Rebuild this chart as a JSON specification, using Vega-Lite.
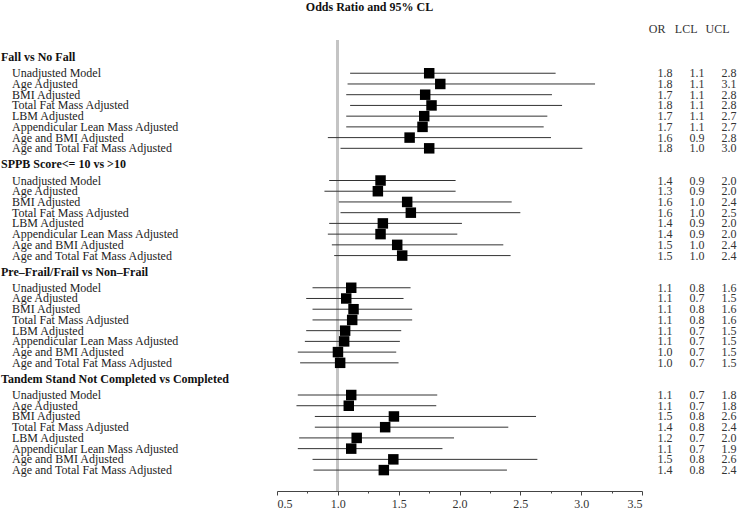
{
  "$schema": "https://vega.github.io/schema/vega-lite/v6.json",
  "background": "white",
  "padding": {"left": 0, "right": 0, "top": 1, "bottom": 0},
  "bounds": "flush",
  "spacing": 13,
  "title": {"text": "Odds Ratio and 95% CL", "font": "Liberation Serif", "fontSize": 12, "fontWeight": "bold", "anchor": "middle", "offset": 8, "color": "#111"},
  "config": {
    "view": {"stroke": null},
    "font": "Liberation Serif",
    "axis": {"labelFont": "Liberation Serif", "labelFontSize": 12, "labelColor": "#333", "domainColor": "#444", "tickColor": "#444", "grid": false, "title": null}
  },
  "datasets": {
    "rows": [
      {"group": "Fall vs No Fall", "label": "Fall vs No Fall", "type": "group", "level": 0, "pos": 0},
      {"group": "Fall vs No Fall", "label": "Unadjusted Model", "type": "item", "level": 1, "pos": 1.5, "OR": 1.751, "LCL": 1.101, "UCL": 2.790},
      {"group": "Fall vs No Fall", "label": "Age Adjusted", "type": "item", "level": 1, "pos": 2.5, "OR": 1.842, "LCL": 1.080, "UCL": 3.114},
      {"group": "Fall vs No Fall", "label": "BMI Adjusted", "type": "item", "level": 1, "pos": 3.5, "OR": 1.718, "LCL": 1.069, "UCL": 2.760},
      {"group": "Fall vs No Fall", "label": "Total Fat Mass Adjusted", "type": "item", "level": 1, "pos": 4.5, "OR": 1.770, "LCL": 1.101, "UCL": 2.843},
      {"group": "Fall vs No Fall", "label": "LBM Adjusted", "type": "item", "level": 1, "pos": 5.5, "OR": 1.710, "LCL": 1.069, "UCL": 2.722},
      {"group": "Fall vs No Fall", "label": "Appendicular Lean Mass Adjusted", "type": "item", "level": 1, "pos": 6.5, "OR": 1.696, "LCL": 1.069, "UCL": 2.692},
      {"group": "Fall vs No Fall", "label": "Age and BMI Adjusted", "type": "item", "level": 1, "pos": 7.5, "OR": 1.590, "LCL": 0.918, "UCL": 2.752},
      {"group": "Fall vs No Fall", "label": "Age and Total Fat Mass Adjusted", "type": "item", "level": 1, "pos": 8.5, "OR": 1.751, "LCL": 1.022, "UCL": 3.010},
      {"group": "SPPB", "label": "SPPB Score<= 10 vs >10", "type": "group", "level": 0, "pos": 10},
      {"group": "SPPB", "label": "Unadjusted Model", "type": "item", "level": 1, "pos": 11.5, "OR": 1.351, "LCL": 0.929, "UCL": 1.968},
      {"group": "SPPB", "label": "Age Adjusted", "type": "item", "level": 1, "pos": 12.5, "OR": 1.329, "LCL": 0.890, "UCL": 1.968},
      {"group": "SPPB", "label": "BMI Adjusted", "type": "item", "level": 1, "pos": 13.5, "OR": 1.570, "LCL": 1.008, "UCL": 2.429},
      {"group": "SPPB", "label": "Total Fat Mass Adjusted", "type": "item", "level": 1, "pos": 14.5, "OR": 1.600, "LCL": 1.022, "UCL": 2.500},
      {"group": "SPPB", "label": "LBM Adjusted", "type": "item", "level": 1, "pos": 15.5, "OR": 1.370, "LCL": 0.929, "UCL": 2.020},
      {"group": "SPPB", "label": "Appendicular Lean Mass Adjusted", "type": "item", "level": 1, "pos": 16.5, "OR": 1.351, "LCL": 0.918, "UCL": 1.982},
      {"group": "SPPB", "label": "Age and BMI Adjusted", "type": "item", "level": 1, "pos": 17.5, "OR": 1.488, "LCL": 0.951, "UCL": 2.360},
      {"group": "SPPB", "label": "Age and Total Fat Mass Adjusted", "type": "item", "level": 1, "pos": 18.5, "OR": 1.529, "LCL": 0.970, "UCL": 2.420},
      {"group": "Frail", "label": "Pre–Frail/Frail vs Non–Frail", "type": "group", "level": 0, "pos": 20},
      {"group": "Frail", "label": "Unadjusted Model", "type": "item", "level": 1, "pos": 21.5, "OR": 1.110, "LCL": 0.792, "UCL": 1.598},
      {"group": "Frail", "label": "Age Adjusted", "type": "item", "level": 1, "pos": 22.5, "OR": 1.069, "LCL": 0.740, "UCL": 1.540},
      {"group": "Frail", "label": "BMI Adjusted", "type": "item", "level": 1, "pos": 23.5, "OR": 1.129, "LCL": 0.792, "UCL": 1.611},
      {"group": "Frail", "label": "Total Fat Mass Adjusted", "type": "item", "level": 1, "pos": 24.5, "OR": 1.118, "LCL": 0.792, "UCL": 1.611},
      {"group": "Frail", "label": "LBM Adjusted", "type": "item", "level": 1, "pos": 25.5, "OR": 1.060, "LCL": 0.740, "UCL": 1.521},
      {"group": "Frail", "label": "Appendicular Lean Mass Adjusted", "type": "item", "level": 1, "pos": 26.5, "OR": 1.052, "LCL": 0.729, "UCL": 1.510},
      {"group": "Frail", "label": "Age and BMI Adjusted", "type": "item", "level": 1, "pos": 27.5, "OR": 1.001, "LCL": 0.671, "UCL": 1.480},
      {"group": "Frail", "label": "Age and Total Fat Mass Adjusted", "type": "item", "level": 1, "pos": 28.5, "OR": 1.019, "LCL": 0.690, "UCL": 1.499},
      {"group": "Tandem", "label": "Tandem Stand Not Completed vs Completed", "type": "group", "level": 0, "pos": 30},
      {"group": "Tandem", "label": "Unadjusted Model", "type": "item", "level": 1, "pos": 31.5, "OR": 1.110, "LCL": 0.671, "UCL": 1.817},
      {"group": "Tandem", "label": "Age Adjusted", "type": "item", "level": 1, "pos": 32.5, "OR": 1.090, "LCL": 0.660, "UCL": 1.809},
      {"group": "Tandem", "label": "BMI Adjusted", "type": "item", "level": 1, "pos": 33.5, "OR": 1.461, "LCL": 0.811, "UCL": 2.629},
      {"group": "Tandem", "label": "Total Fat Mass Adjusted", "type": "item", "level": 1, "pos": 34.5, "OR": 1.389, "LCL": 0.811, "UCL": 2.401},
      {"group": "Tandem", "label": "LBM Adjusted", "type": "item", "level": 1, "pos": 35.5, "OR": 1.155, "LCL": 0.682, "UCL": 1.955},
      {"group": "Tandem", "label": "Appendicular Lean Mass Adjusted", "type": "item", "level": 1, "pos": 36.5, "OR": 1.110, "LCL": 0.671, "UCL": 1.860},
      {"group": "Tandem", "label": "Age and BMI Adjusted", "type": "item", "level": 1, "pos": 37.5, "OR": 1.456, "LCL": 0.792, "UCL": 2.640},
      {"group": "Tandem", "label": "Age and Total Fat Mass Adjusted", "type": "item", "level": 1, "pos": 38.5, "OR": 1.378, "LCL": 0.800, "UCL": 2.390}
    ]
  },
  "hconcat": [
    {
      "width": 264,
      "height": 451,
      "data": {"name": "rows"},
      "layer": [
        {
          "transform": [{"filter": "datum.type === 'group'"}],
          "mark": {"type": "text", "align": "left", "baseline": "middle", "fontWeight": "bold", "fontSize": 12, "dx": 1, "color": "#111"},
          "encoding": {
            "x": {"field": "level", "type": "quantitative", "scale": {"domain": [0, 24], "nice": false, "zero": false}, "axis": null},
            "y": {"field": "pos", "type": "quantitative", "scale": {"domain": [-1.6, 40.45], "reverse": true, "nice": false, "zero": false}, "axis": null},
            "text": {"field": "label"}
          }
        },
        {
          "transform": [{"filter": "datum.type === 'item'"}],
          "mark": {"type": "text", "align": "left", "baseline": "middle", "fontSize": 12, "dx": 1, "color": "#222"},
          "encoding": {
            "x": {"field": "level", "type": "quantitative", "scale": {"domain": [0, 24], "nice": false, "zero": false}, "axis": null},
            "y": {"field": "pos", "type": "quantitative", "scale": {"domain": [-1.6, 40.45], "reverse": true, "nice": false, "zero": false}, "axis": null},
            "text": {"field": "label"}
          }
        }
      ]
    },
    {
      "width": 365,
      "height": 451,
      "data": {"name": "rows"},
      "transform": [{"filter": "datum.type === 'item'"}],
      "layer": [
        {
          "mark": {"type": "rule", "color": "#c4c4c4", "strokeWidth": 2},
          "encoding": {
            "x": {"datum": 1, "type": "quantitative", "scale": {"domain": [0.5, 3.5], "nice": false, "zero": false},
                  "axis": {"orient": "bottom", "values": [0.5, 1, 1.5, 2, 2.5, 3, 3.5], "format": ".1f", "tickSize": 4, "labelPadding": 3, "title": null}}
          }
        },
        {
          "mark": {"type": "rule", "color": "#333", "strokeWidth": 1},
          "encoding": {
            "x": {"field": "LCL", "type": "quantitative", "scale": {"domain": [0.5, 3.5], "nice": false, "zero": false},
                  "axis": {"orient": "bottom", "values": [0.75, 1.25, 1.75, 2.25, 2.75, 3.25], "labels": false, "domain": false, "tickSize": 2, "title": null}},
            "x2": {"field": "UCL"},
            "y": {"field": "pos", "type": "quantitative", "scale": {"domain": [-1.6, 40.45], "reverse": true, "nice": false, "zero": false}, "axis": null}
          }
        },
        {
          "mark": {"type": "square", "filled": true, "color": "#000", "size": 110, "opacity": 1},
          "encoding": {
            "x": {"field": "OR", "type": "quantitative", "axis": null},
            "y": {"field": "pos", "type": "quantitative", "axis": null}
          }
        }
      ],
      "resolve": {"axis": {"x": "independent"}}
    },
    {
      "width": 84,
      "height": 451,
      "data": {"name": "rows"},
      "transform": [
        {"filter": "datum.type === 'item'"},
        {"fold": ["OR", "LCL", "UCL"], "as": ["stat", "val"]}
      ],
      "mark": {"type": "text", "baseline": "middle", "fontSize": 12, "color": "#333"},
      "encoding": {
        "x": {"field": "stat", "type": "nominal", "scale": {"type": "point", "domain": ["OR", "LCL", "UCL"], "padding": 0.3125},
              "axis": {"orient": "top", "domain": false, "ticks": false, "labelPadding": 5, "labelAngle": 0, "labelAlign": "right", "labelDx": 8, "title": null}},
        "y": {"field": "pos", "type": "quantitative", "scale": {"domain": [-1.6, 40.45], "reverse": true, "nice": false, "zero": false}, "axis": null},
        "text": {"field": "val", "type": "quantitative", "format": ".1f"}
      }
    }
  ]
}
